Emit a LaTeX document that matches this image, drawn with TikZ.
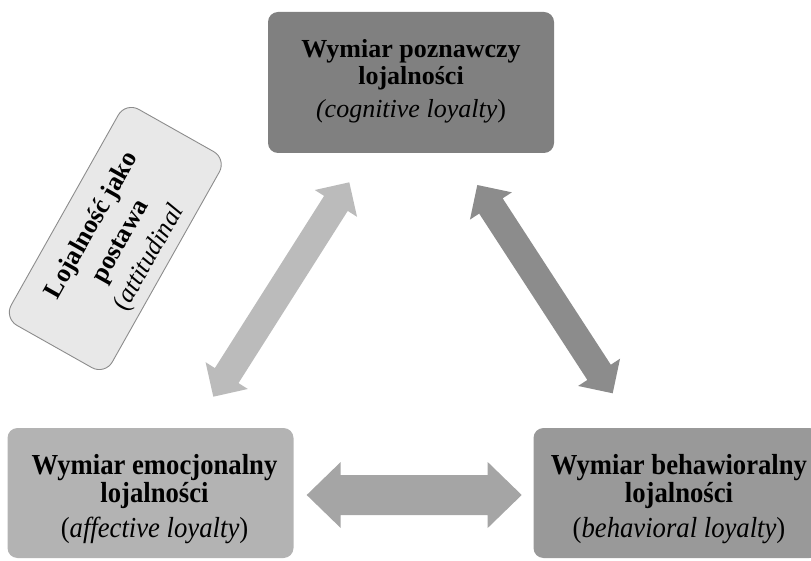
\documentclass[tikz,border=0pt]{standalone}
\usepackage{fontspec}
\setmainfont{Liberation Serif}
\usepackage{graphicx}
\usetikzlibrary{calc}

\definecolor{topfill}{HTML}{808080}
\definecolor{emofill}{HTML}{B3B3B3}
\definecolor{behfill}{HTML}{999999}
\definecolor{attfill}{HTML}{E8E8E8}
\definecolor{attline}{HTML}{8C8C8C}
\definecolor{arrowlight}{HTML}{BBBBBB}
\definecolor{arrowmid}{HTML}{A5A5A5}
\definecolor{arrowdark}{HTML}{8C8C8C}

% Two-headed block arrow between two named points:
% #1 style, #2 start, #3 end, #4 head length, #5 half head width, #6 half shaft width
\newcommand\dblblockarrow[6]{%
  \fill[#1] (#2)
    -- ($(#2)!#4!(#3)!#5!90:(#3)$) -- ($(#2)!#4!(#3)!#6!90:(#3)$)
    -- ($(#3)!#4!(#2)!#6!-90:(#2)$) -- ($(#3)!#4!(#2)!#5!-90:(#2)$)
    -- (#3)
    -- ($(#3)!#4!(#2)!#5!90:(#2)$) -- ($(#3)!#4!(#2)!#6!90:(#2)$)
    -- ($(#2)!#4!(#3)!#6!-90:(#3)$) -- ($(#2)!#4!(#3)!#5!-90:(#3)$)
    -- cycle;}

\tikzset{
  dimbox/.style={rectangle, rounded corners=10pt, minimum width=286pt, inner sep=0pt},
  toplabel/.style={inner sep=0pt, font=\fontsize{26}{27}\selectfont},
  lowlabel/.style={inner sep=0pt, font=\fontsize{29}{28}\selectfont},
  attbox/.style={rectangle, rounded corners=15pt, minimum width=248pt, minimum height=116pt,
    fill=attfill, draw=attline, line width=0.9pt},
  attlabel/.style={inner sep=0pt, font=\fontsize{26}{33}\selectfont},
}

\begin{document}
\begin{tikzpicture}[x=1pt, y=1pt]
  \useasboundingbox (0,0) rectangle (811,560);

  % three dimension boxes
  \node[dimbox, fill=topfill, minimum height=141pt] (cog) at (411,477.5) {};
  \node[dimbox, fill=emofill, minimum height=130pt] (emo) at (150.5,67) {};
  \node[dimbox, fill=behfill, minimum height=130pt] (beh) at (676.5,67) {};

  \node[toplabel] (coglbl) at (cog.center) {\begin{tabular}{@{}c@{}}
      \textbf{Wymiar poznawczy}\\ \textbf{lojalności}\\[6pt]
      \textit{(cognitive loyalty})\end{tabular}};
  \node[lowlabel] (emolbl) at ([shift={(4,-7)}]emo.center) {\scalebox{0.92}[1]{\begin{tabular}{@{}c@{}}
      \textbf{Wymiar emocjonalny}\\ \textbf{lojalności}\\[6pt]
      (\textit{affective loyalty})\end{tabular}}};
  \node[lowlabel] (behlbl) at ([shift={(2.5,-7)}]beh.center) {\scalebox{0.92}[1]{\begin{tabular}{@{}c@{}}
      \textbf{Wymiar behawioralny}\\ \textbf{lojalności}\\[6pt]
      (\textit{behavioral loyalty})\end{tabular}}};

  % attitudinal loyalty label, tilted
  \begin{scope}[shift={(115.3,321.5)}, rotate=60.6, transform shape]
    \node[attbox] (att) at (0,0) {};
    \node[attlabel] (attlbl) at (0,-6.4) {\begin{tabular}{@{}c@{}}
        \textbf{Lojalność jako}\\ \textbf{postawa}\\
        (\textit{attitudinal}\end{tabular}};
  \end{scope}

  % arrow tips
  \coordinate (ce) at (213.3,163.3);
  \coordinate (ec) at (349.3,377.7);
  \coordinate (cb) at (477.3,375);
  \coordinate (bc) at (612.7,166.7);
  \coordinate (eb) at (306.7,65);
  \coordinate (be) at (521.7,65);

  \dblblockarrow{arrowlight}{ce}{ec}{25pt}{25pt}{14pt}
  \dblblockarrow{arrowdark}{cb}{bc}{25pt}{25pt}{14pt}
  \dblblockarrow{arrowmid}{eb}{be}{34pt}{33pt}{20pt}
\end{tikzpicture}
\end{document}
